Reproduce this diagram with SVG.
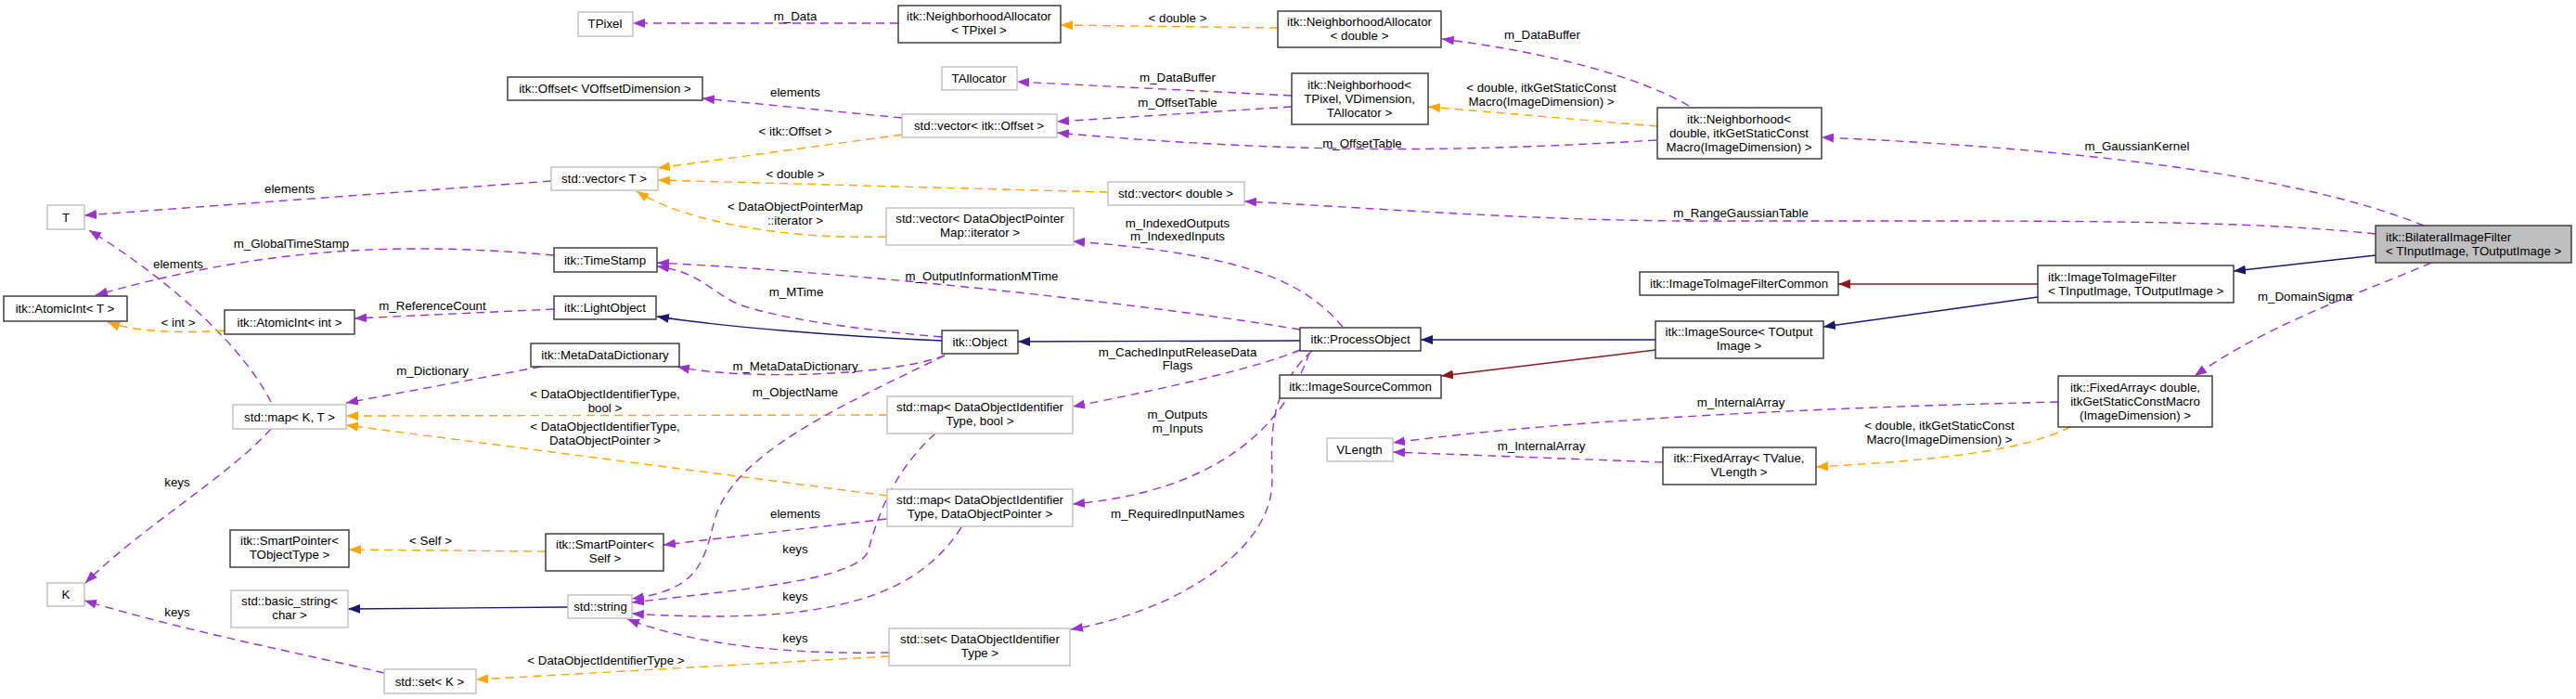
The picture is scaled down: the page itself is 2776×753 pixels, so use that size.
<svg xmlns="http://www.w3.org/2000/svg" width="2776" height="753" viewBox="0 0 2776 753">
<style>
text{font-family:"Liberation Sans",Arial,sans-serif;font-size:13.3px;fill:#000}
.n text{text-anchor:middle}
.n text.l{text-anchor:start}
rect{fill:#fff;stroke-width:1.4}
.d rect{stroke:#333}
.u rect{stroke:#bfbfbf}
.f rect{fill:#bfbfbf}
.e path{fill:none;stroke-width:1.4}
.p{stroke:#9a32cd;stroke-dasharray:9,6;marker-end:url(#mp)}
.o{stroke:#ffa500;stroke-dasharray:9,6;marker-end:url(#mo)}
.b{stroke:#191970;marker-end:url(#mb)}
.r{stroke:#8b1a1a;marker-end:url(#mr)}
.lb text{text-anchor:middle}
</style>
<defs>
<marker id="mp" viewBox="0 0 13 10" refX="13" refY="5" markerWidth="13" markerHeight="10" markerUnits="userSpaceOnUse" orient="auto"><path d="M0,0L13,5L0,10z" fill="#9a32cd"/></marker>
<marker id="mo" viewBox="0 0 13 10" refX="13" refY="5" markerWidth="13" markerHeight="10" markerUnits="userSpaceOnUse" orient="auto"><path d="M0,0L13,5L0,10z" fill="#ffa500"/></marker>
<marker id="mb" viewBox="0 0 13 10" refX="13" refY="5" markerWidth="13" markerHeight="10" markerUnits="userSpaceOnUse" orient="auto"><path d="M0,0L13,5L0,10z" fill="#191970"/></marker>
<marker id="mr" viewBox="0 0 13 10" refX="13" refY="5" markerWidth="13" markerHeight="10" markerUnits="userSpaceOnUse" orient="auto"><path d="M0,0L13,5L0,10z" fill="#8b1a1a"/></marker>
</defs>
<rect x="0" y="0" width="2776" height="753" style="fill:#fff;stroke:none"/>
<g id="connectors" class="e">
<path class="p" d="M968,25L682,25"/>
<path class="o" d="M1377,30L1143,27"/>
<path class="p" d="M1820,114C1770,85 1680,58 1554,42"/>
<path class="p" d="M1392,103L1096,88"/>
<path class="p" d="M1392,115L1139,131"/>
<path class="p" d="M1785,151C1600,162 1420,168 1139,143"/>
<path class="o" d="M1786,136L1539,115"/>
<path class="p" d="M2612,243C2480,190 2250,160 1963,148"/>
<path class="p" d="M2560,252C2450,240 2300,238 2080,238L1826,238C1650,238 1450,222 1341,217"/>
<path class="p" d="M972,127L757,106"/>
<path class="o" d="M972,145L709,181"/>
<path class="o" d="M1194,207L709,194"/>
<path class="o" d="M955,255C850,258 740,240 686,206"/>
<path class="p" d="M594,195L91,232"/>
<path class="p" d="M292,433C260,370 180,300 96,248"/>
<path class="p" d="M597,275C450,262 300,262 103,318"/>
<path class="o" d="M242,356C190,360 140,356 116,347"/>
<path class="p" d="M597,333L382,343"/>
<path class="p" d="M583,395L373,434"/>
<path class="o" d="M956,447L373,448"/>
<path class="o" d="M956,534L373,458"/>
<path class="b" d="M1015,367C900,362 780,352 708,341"/>
<path class="p" d="M1015,363C920,355 820,340 790,325C765,312 750,292 708,287"/>
<path class="p" d="M1401,355C1250,330 950,295 708,283"/>
<path class="p" d="M1447,352C1410,310 1360,275 1156,260"/>
<path class="b" d="M1401,367L1097,368"/>
<path class="p" d="M1401,377C1370,390 1300,410 1156,438"/>
<path class="p" d="M1411,380C1380,470 1300,530 1156,543"/>
<path class="p" d="M1414,378C1355,430 1375,500 1370,530C1360,600 1260,660 1154,678"/>
<path class="p" d="M1018,383C960,405 800,410 730,395"/>
<path class="p" d="M1018,383C900,440 790,490 770,560C758,610 750,635 681,645"/>
<path class="p" d="M1008,467C960,510 945,560 935,595C920,625 800,635 681,649"/>
<path class="p" d="M1036,568C990,640 900,675 681,661"/>
<path class="p" d="M958,703C850,705 750,695 676,667"/>
<path class="p" d="M956,559L715,587"/>
<path class="o" d="M588,594L376,592"/>
<path class="b" d="M612,654L375,656"/>
<path class="o" d="M958,707L513,732"/>
<path class="p" d="M414,725C330,705 200,680 91,647"/>
<path class="p" d="M292,462C250,510 150,570 92,628"/>
<path class="b" d="M1784,366L1531,366"/>
<path class="r" d="M1784,377L1553,405"/>
<path class="r" d="M2196,306L1981,306"/>
<path class="b" d="M2196,320L1965,352"/>
<path class="b" d="M2560,275L2407,292"/>
<path class="p" d="M2620,283C2560,310 2450,345 2365,405"/>
<path class="p" d="M2218,433C2000,438 1700,450 1501,477"/>
<path class="p" d="M1792,498L1501,487"/>
<path class="o" d="M2231,460C2180,485 2100,495 1957,503"/>
<g class="lb">
<text x="857" y="22">m_Data</text>
<text x="1269" y="24">&lt; double &gt;</text>
<text x="1662" y="42">m_DataBuffer</text>
<text x="1269" y="88">m_DataBuffer</text>
<text x="1269" y="115">m_OffsetTable</text>
<text x="1468" y="159">m_OffsetTable</text>
<text x="1661" y="99">&lt; double, itkGetStaticConst</text>
<text x="1661" y="114">Macro(ImageDimension) &gt;</text>
<text x="2303" y="162">m_GaussianKernel</text>
<text x="1876" y="234">m_RangeGaussianTable</text>
<text x="857" y="104">elements</text>
<text x="857" y="146">&lt; itk::Offset &gt;</text>
<text x="857" y="192">&lt; double &gt;</text>
<text x="857" y="227">&lt; DataObjectPointerMap</text>
<text x="857" y="242">::iterator &gt;</text>
<text x="312" y="208">elements</text>
<text x="192" y="289">elements</text>
<text x="314" y="267">m_GlobalTimeStamp</text>
<text x="192" y="352">&lt; int &gt;</text>
<text x="466" y="334">m_ReferenceCount</text>
<text x="466" y="404">m_Dictionary</text>
<text x="652" y="429">&lt; DataObjectIdentifierType,</text>
<text x="652" y="444">bool &gt;</text>
<text x="652" y="464">&lt; DataObjectIdentifierType,</text>
<text x="652" y="479">DataObjectPointer &gt;</text>
<text x="858" y="319">m_MTime</text>
<text x="1058" y="302">m_OutputInformationMTime</text>
<text x="1269" y="245">m_IndexedOutputs</text>
<text x="1269" y="259">m_IndexedInputs</text>
<text x="1269" y="384">m_CachedInputReleaseData</text>
<text x="1269" y="398">Flags</text>
<text x="1269" y="451">m_Outputs</text>
<text x="1269" y="466">m_Inputs</text>
<text x="1269" y="558">m_RequiredInputNames</text>
<text x="857" y="399">m_MetaDataDictionary</text>
<text x="857" y="427">m_ObjectName</text>
<text x="857" y="596">keys</text>
<text x="857" y="647">keys</text>
<text x="857" y="692">keys</text>
<text x="857" y="558">elements</text>
<text x="464" y="587">&lt; Self &gt;</text>
<text x="653" y="716">&lt; DataObjectIdentifierType &gt;</text>
<text x="191" y="664">keys</text>
<text x="191" y="524">keys</text>
<text x="2484" y="324">m_DomainSigma</text>
<text x="1876" y="438">m_InternalArray</text>
<text x="1661" y="485">m_InternalArray</text>
<text x="2090" y="463">&lt; double, itkGetStaticConst</text>
<text x="2090" y="478">Macro(ImageDimension) &gt;</text>
</g>
</g>
<g id="n_tpixel" class="n u"><rect x="623" y="13" width="59" height="26"/><text x="652" y="30">TPixel</text></g>
<g id="n_offset" class="n d"><rect x="547" y="83" width="210" height="25"/><text x="652" y="100">itk::Offset&lt; VOffsetDimension &gt;</text></g>
<g id="n_vector_t" class="n u"><rect x="594" y="180" width="115" height="25"/><text x="651" y="197">std::vector&lt; T &gt;</text></g>
<g id="n_t" class="n u"><rect x="51" y="221" width="40" height="26"/><text x="71" y="239">T</text></g>
<g id="n_na_tpixel" class="n d"><rect x="968" y="6" width="175" height="40"/><text x="1055" y="22">itk::NeighborhoodAllocator</text><text x="1055" y="37">&lt; TPixel &gt;</text></g>
<g id="n_tallocator" class="n u"><rect x="1015" y="72" width="81" height="25"/><text x="1055" y="89">TAllocator</text></g>
<g id="n_vector_offset" class="n u"><rect x="972" y="123" width="167" height="25"/><text x="1055" y="140">std::vector&lt; itk::Offset &gt;</text></g>
<g id="n_vector_double" class="n u"><rect x="1194" y="196" width="147" height="25"/><text x="1267" y="213">std::vector&lt; double &gt;</text></g>
<g id="n_vector_iter" class="n u"><rect x="955" y="224" width="202" height="40"/><text x="1056" y="240">std::vector&lt; DataObjectPointer</text><text x="1056" y="255">Map::iterator &gt;</text></g>
<g id="n_na_double" class="n d"><rect x="1377" y="12" width="176" height="39"/><text x="1465" y="28">itk::NeighborhoodAllocator</text><text x="1465" y="43">&lt; double &gt;</text></g>
<g id="n_nbh_tpixel" class="n d"><rect x="1392" y="79" width="147" height="55"/><text x="1465" y="96">itk::Neighborhood&lt;</text><text x="1465" y="111">TPixel, VDimension,</text><text x="1465" y="126">TAllocator &gt;</text></g>
<g id="n_nbh_double" class="n d"><rect x="1786" y="116" width="177" height="55"/><text x="1874" y="133">itk::Neighborhood&lt;</text><text x="1874" y="148">double, itkGetStaticConst</text><text x="1874" y="163">Macro(ImageDimension) &gt;</text></g>
<g id="n_bilateral" class="n d f"><rect x="2560" y="243" width="211" height="40"/><text class="l" x="2571" y="260">itk::BilateralImageFilter</text><text class="l" x="2571" y="275">&lt; TInputImage, TOutputImage &gt;</text></g>
<g id="n_atomic_t" class="n d"><rect x="4" y="319" width="133" height="27"/><text x="70" y="337">itk::AtomicInt&lt; T &gt;</text></g>
<g id="n_atomic_int" class="n d"><rect x="242" y="334" width="140" height="26"/><text x="312" y="352">itk::AtomicInt&lt; int &gt;</text></g>
<g id="n_timestamp" class="n d"><rect x="597" y="267" width="111" height="26"/><text x="652" y="285">itk::TimeStamp</text></g>
<g id="n_lightobject" class="n d"><rect x="597" y="319" width="110" height="25"/><text x="652" y="336">itk::LightObject</text></g>
<g id="n_metadata" class="n d"><rect x="572" y="370" width="160" height="25"/><text x="652" y="387">itk::MetaDataDictionary</text></g>
<g id="n_map_kt" class="n u"><rect x="251" y="436" width="122" height="26"/><text x="312" y="454">std::map&lt; K, T &gt;</text></g>
<g id="n_object" class="n d"><rect x="1015" y="356" width="82" height="25"/><text x="1056" y="373">itk::Object</text></g>
<g id="n_map_bool" class="n u"><rect x="956" y="427" width="200" height="40"/><text x="1056" y="443">std::map&lt; DataObjectIdentifier</text><text x="1056" y="458">Type, bool &gt;</text></g>
<g id="n_processobject" class="n d"><rect x="1401" y="353" width="130" height="25"/><text x="1466" y="370">itk::ProcessObject</text></g>
<g id="n_imagesourcecommon" class="n d"><rect x="1379" y="404" width="174" height="25"/><text x="1466" y="421">itk::ImageSourceCommon</text></g>
<g id="n_i2icommon" class="n d"><rect x="1767" y="293" width="214" height="25"/><text x="1874" y="310">itk::ImageToImageFilterCommon</text></g>
<g id="n_imagesource" class="n d"><rect x="1784" y="346" width="181" height="40"/><text x="1874" y="362">itk::ImageSource&lt; TOutput</text><text x="1874" y="377">Image &gt;</text></g>
<g id="n_vlength" class="n u"><rect x="1430" y="472" width="71" height="25"/><text x="1465" y="489">VLength</text></g>
<g id="n_fa_tvalue" class="n d"><rect x="1792" y="482" width="165" height="40"/><text x="1874" y="498">itk::FixedArray&lt; TValue,</text><text x="1874" y="513">VLength &gt;</text></g>
<g id="n_i2i" class="n d"><rect x="2196" y="286" width="211" height="40"/><text class="l" x="2207" y="303">itk::ImageToImageFilter</text><text class="l" x="2207" y="318">&lt; TInputImage, TOutputImage &gt;</text></g>
<g id="n_fa_double" class="n d"><rect x="2218" y="405" width="166" height="55"/><text x="2301" y="422">itk::FixedArray&lt; double,</text><text x="2301" y="437">itkGetStaticConstMacro</text><text x="2301" y="452">(ImageDimension) &gt;</text></g>
<g id="n_k" class="n u"><rect x="51" y="628" width="40" height="25"/><text x="71" y="645">K</text></g>
<g id="n_sp_tobj" class="n d"><rect x="248" y="571" width="128" height="40"/><text x="312" y="587">itk::SmartPointer&lt;</text><text x="312" y="602">TObjectType &gt;</text></g>
<g id="n_basic_string" class="n u"><rect x="249" y="636" width="126" height="40"/><text x="312" y="652">std::basic_string&lt;</text><text x="312" y="667">char &gt;</text></g>
<g id="n_sp_self" class="n d"><rect x="588" y="575" width="127" height="40"/><text x="652" y="591">itk::SmartPointer&lt;</text><text x="652" y="606">Self &gt;</text></g>
<g id="n_string" class="n u"><rect x="612" y="641" width="69" height="25"/><text x="647" y="658">std::string</text></g>
<g id="n_set_k" class="n u"><rect x="414" y="721" width="99" height="26"/><text x="463" y="739">std::set&lt; K &gt;</text></g>
<g id="n_map_dop" class="n u"><rect x="956" y="527" width="200" height="40"/><text x="1056" y="543">std::map&lt; DataObjectIdentifier</text><text x="1056" y="558">Type, DataObjectPointer &gt;</text></g>
<g id="n_set_doit" class="n u"><rect x="958" y="677" width="195" height="40"/><text x="1056" y="693">std::set&lt; DataObjectIdentifier</text><text x="1056" y="708">Type &gt;</text></g>
</svg>
